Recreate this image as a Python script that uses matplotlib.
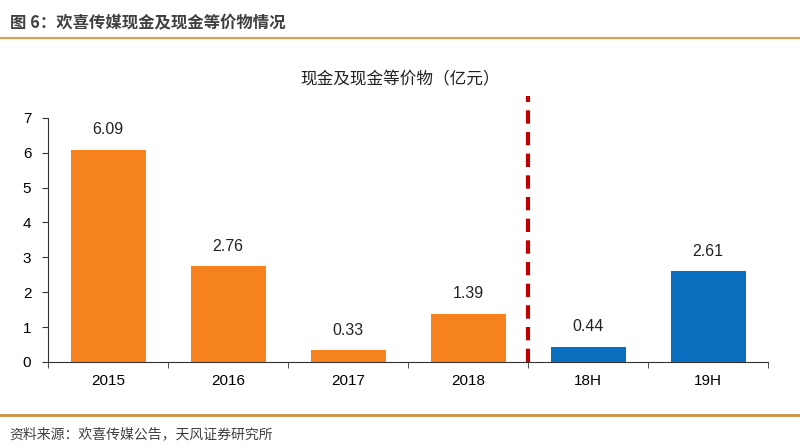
import matplotlib
matplotlib.use("Agg")
import matplotlib.pyplot as plt
from matplotlib.lines import Line2D

plt.rcParams['font.family'] = ['Liberation Sans', 'Noto Sans CJK SC', 'DejaVu Sans']

categories = ["2015", "2016", "2017", "2018", "18H", "19H"]
values = [6.09, 2.76, 0.33, 1.39, 0.44, 2.61]
colors = ["#F5821F", "#F5821F", "#F5821F", "#F5821F", "#0B6FC0", "#0B6FC0"]
yticks = [0, 1, 2, 3, 4, 5, 6, 7]

fig = plt.figure(figsize=(8, 4.48), dpi=100)
ax = fig.add_axes([0.06, 0.192, 0.90, 0.545])

x = list(range(len(categories)))
ax.bar(x, values, width=0.625, color=colors, zorder=2)
for i, v in enumerate(values):
    ax.text(i, v + 0.35, f"{v:.2f}", ha="center", va="bottom", fontsize=11.5, color="#222222")

ax.set_xlim(-0.5, len(categories) - 0.5)
ax.set_ylim(0, 7)
ax.set_yticks(yticks)
ax.set_yticklabels([str(t) for t in yticks], fontsize=11)
ax.set_xticks(x)
ax.set_xticklabels(categories, fontsize=11)
ax.tick_params(axis="x", length=0, pad=9)
ax.set_xticks([i + 0.5 for i in range(-1, len(categories))], minor=True)
ax.tick_params(axis="x", which="minor", length=4, direction="out", color="#333333")
ax.tick_params(axis="y", length=4, direction="out", color="#333333", pad=8)
for s in ["top", "right"]:
    ax.spines[s].set_visible(False)
ax.spines["left"].set_color("#333333")
ax.spines["bottom"].set_color("#333333")

# dashed divider between 2018 and 18H
ax.plot([3.5, 3.5], [0, 7.62], color="#C00000", lw=3, ls=(0, (3.2, 2.0)), clip_on=False, zorder=3)

fig.text(0.5, 0.822, "现金及现金等价物（亿元）", ha="center", va="center", fontsize=12,
         family=['Noto Sans CJK SC', 'DejaVu Sans'], color="#222222")

# header and footer
fig.text(0.012, 0.948, "图 6：欢喜传媒现金及现金等价物情况", ha="left", va="center", fontsize=11.8,
         fontweight="bold", family=['Noto Sans CJK SC', 'DejaVu Sans'], color="#404040")
fig.add_artist(Line2D([0, 1], [0.915, 0.915], transform=fig.transFigure, color="#E39A4C", lw=1.5))
fig.add_artist(Line2D([0, 1], [0.074, 0.074], transform=fig.transFigure, color="#C8903F", lw=2))
fig.text(0.012, 0.031, "资料来源：欢喜传媒公告，天风证券研究所", ha="left", va="center", fontsize=10,
         family=['Noto Sans CJK SC', 'DejaVu Sans'], color="#404040")

fig.savefig("out.png", dpi=100)
